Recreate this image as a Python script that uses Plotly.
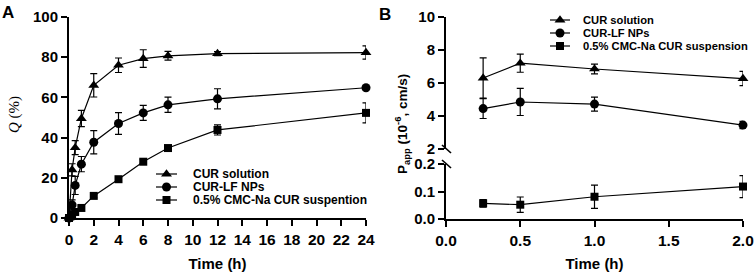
import plotly.graph_objects as go

W, H = 754, 272

# ---------------- data ----------------
# Panel A: cumulative release Q (%) vs time (h)
time_a = [0, 0.25, 0.5, 1, 2, 4, 6, 8, 12, 24]
sol_a = [0, 24, 35, 49.5, 66, 76, 79.3, 80.7, 81.8, 82.3]
sol_a_err = [0.5, 3, 3.5, 4, 5.8, 3.6, 4.4, 2.2, 1, 3.3]
nps_a = [0, 6.5, 16.2, 26.8, 37.7, 47, 52.3, 56.3, 59.3, 64.8]
nps_a_err = [0.5, 2.5, 4.5, 3.8, 5.8, 5.4, 3.7, 3.8, 5, 1]
sus_a = [0, 1.5, 3, 5, 11, 19.3, 28, 34.8, 43.8, 52.3]
sus_a_err = [0.3, 0.8, 1, 1, 1, 1, 1, 1, 2.5, 5]
labels_a = ["CUR solution", "CUR-LF NPs", "0.5% CMC-Na CUR suspention"]

# Panel B: Papp (10^-6 cm/s) vs time (h)
time_b = [0.25, 0.5, 1.0, 2.0]
sol_b = [6.3, 7.2, 6.85, 6.27]
sol_b_err = [1.22, 0.55, 0.3, 0.43]
nps_b = [4.45, 4.85, 4.72, 3.45]
nps_b_err = [0.6, 0.82, 0.42, 0.22]
sus_b = [0.057, 0.052, 0.081, 0.118]
sus_b_err = [0.014, 0.028, 0.042, 0.04]
labels_b = ["CUR solution", "CUR-LF NPs", "0.5% CMC-Na CUR suspension"]

ticks_a_x = list(range(0, 25, 2))
ticks_a_y = [0, 20, 40, 60, 80, 100]
ticks_b_x = [0.0, 0.5, 1.0, 1.5, 2.0]
ticks_b_up = [2, 4, 6, 8, 10]
ticks_b_lo = [0.0, 0.1, 0.2]

# ---------------- helpers ----------------
def px(x):
    return x / W

def py(y):
    return 1 - y / H

FONT = "Liberation Sans, Arial, sans-serif"
SYM = ["triangle-up", "circle", "square"]
SIZES = [9.5, 9, 8]

fig = go.Figure()

def add_series(x, y, err, sym, size, xa, ya):
    fig.add_trace(go.Scatter(
        x=x, y=y, mode="lines+markers",
        line=dict(color="black", width=1.2),
        marker=dict(symbol=sym, size=size, color="black"),
        error_y=dict(type="data", array=err, visible=True,
                     color="black", thickness=1.2, width=3.5),
        xaxis=xa, yaxis=ya, cliponaxis=False, showlegend=False,
    ))

for ys, es, s, sz in zip([sol_a, nps_a, sus_a], [sol_a_err, nps_a_err, sus_a_err], SYM, SIZES):
    add_series(time_a, ys, es, s, sz, "x", "y")
for ys, es, s, sz in zip([sol_b, nps_b], [sol_b_err, nps_b_err], SYM[:2], SIZES[:2]):
    add_series(time_b, ys, es, s, sz, "x2", "y2")
add_series(time_b, sus_b, sus_b_err, SYM[2], SIZES[2], "x2", "y3")

tickfont = dict(family=FONT, size=15, color="black", weight="bold")
xtickfont = dict(family=FONT, size=15.5, color="black", weight="bold")
titlefont = dict(family=FONT, size=15, color="black", weight="bold")
common = dict(showline=True, linecolor="black", linewidth=2, ticks="outside",
              tickcolor="black", tickwidth=2, ticklen=6, showgrid=False,
              zeroline=False, automargin=False)

fig.update_layout(
    width=W, height=H, autosize=False,
    margin=dict(l=0, r=0, t=0, b=0),
    paper_bgcolor="white", plot_bgcolor="white",
    xaxis=dict(domain=[px(69), px(366)], range=[0, 24], anchor="y",
               tickvals=ticks_a_x, tickfont=xtickfont,
               title=dict(text="Time (h)", font=titlefont), **common),
    yaxis=dict(domain=[py(218), py(17)], range=[0, 100], anchor="x",
               tickvals=ticks_a_y, tickfont=tickfont, **common),
    xaxis2=dict(domain=[px(446), px(743)], range=[0, 2], anchor="y3",
                tickvals=ticks_b_x, tickformat=".1f", tickfont=xtickfont,
                title=dict(text="Time (h)", font=titlefont), **common),
    yaxis2=dict(domain=[py(149), py(17)], range=[2, 10], anchor="x2",
                tickvals=ticks_b_up, tickfont=tickfont, **common),
    yaxis3=dict(domain=[py(219), py(164)], range=[0, 0.2], anchor="x2",
                tickvals=ticks_b_lo, tickformat=".1f", tickfont=tickfont, **common),
)

shapes = []
annots = []

# axis break marks on panel B
for yb in (149, 164):
    shapes.append(dict(type="line", xref="paper", yref="paper",
                       x0=px(442), y0=py(yb - 4), x1=px(451), y1=py(yb + 4),
                       line=dict(color="black", width=1.6)))

# manual legends
def legend(x_line0, x_line1, x_text, rows, labels, fsize):
    xm = (x_line0 + x_line1) / 2
    for yr, lab, sym, sz in zip(rows, labels, SYM, SIZES):
        shapes.append(dict(type="line", xref="paper", yref="paper",
                           x0=px(x_line0), x1=px(x_line1), y0=py(yr), y1=py(yr),
                           line=dict(color="black", width=1.2)))
        r = sz / 2
        if sym == "circle":
            shapes.append(dict(type="circle", xref="paper", yref="paper",
                               x0=px(xm - r), x1=px(xm + r), y0=py(yr + r), y1=py(yr - r),
                               fillcolor="black", line=dict(width=0)))
        elif sym == "square":
            shapes.append(dict(type="rect", xref="paper", yref="paper",
                               x0=px(xm - r), x1=px(xm + r), y0=py(yr + r), y1=py(yr - r),
                               fillcolor="black", line=dict(width=0)))
        else:
            rt = r * 2 / 3 ** 0.5
            path = "M{},{} L{},{} L{},{} Z".format(
                px(xm - rt), py(yr + r / 2), px(xm + rt), py(yr + r / 2), px(xm), py(yr - r))
            shapes.append(dict(type="path", xref="paper", yref="paper", path=path,
                               fillcolor="black", line=dict(width=0)))
        annots.append(dict(text=lab, x=px(x_text), y=py(yr), xref="paper", yref="paper",
                           xanchor="left", yanchor="middle", showarrow=False,
                           font=dict(family=FONT, size=fsize, color="black", weight="bold")))

legend(156, 177, 191, [174, 187, 200], labels_a, 12)
legend(550, 570, 581, [20, 33, 46], labels_b, 11.2)

# axis titles (y) and panel letters
annots.append(dict(text="<i>Q</i> (%)", x=px(14), y=py(115), xref="paper", yref="paper",
                   xanchor="center", yanchor="middle", showarrow=False, textangle=-90,
                   font=dict(family="Liberation Serif, Times New Roman, serif", size=15, color="black")))
annots.append(dict(text="P<sub>app</sub> (10<sup>-6</sup>, cm/s)", x=px(402), y=py(124),
                   xref="paper", yref="paper", xanchor="center", yanchor="middle",
                   showarrow=False, textangle=-90,
                   font=dict(family=FONT, size=13.5, color="black", weight="bold")))
annots.append(dict(text="A", x=px(0), y=py(1), xref="paper", yref="paper",
                   xanchor="left", yanchor="top", showarrow=False,
                   font=dict(family=FONT, size=17, color="black", weight="bold")))
annots.append(dict(text="B", x=px(377), y=py(3), xref="paper", yref="paper",
                   xanchor="left", yanchor="top", showarrow=False,
                   font=dict(family=FONT, size=17, color="black", weight="bold")))

fig.update_layout(shapes=shapes, annotations=annots)
fig.write_html("out.html", config={"displayModeBar": False},
               post_script="document.body.style.margin='0';document.body.style.overflow='hidden';")
